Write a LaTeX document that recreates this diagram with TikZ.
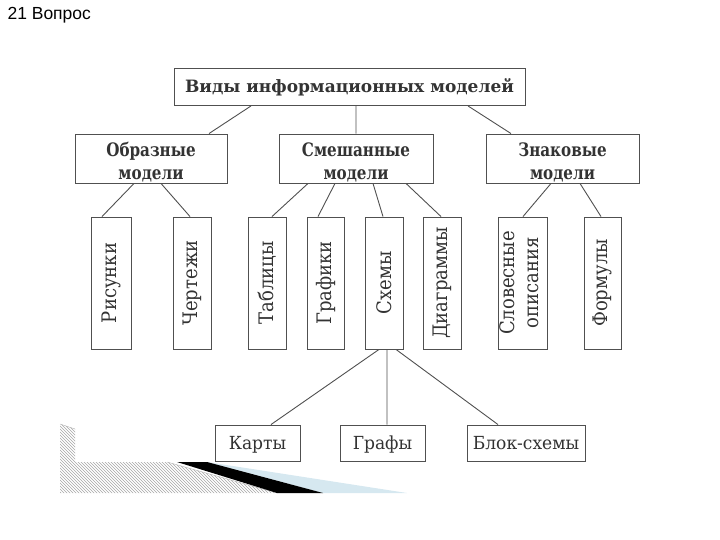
\documentclass[tikz,border=0pt]{standalone}
\usepackage{fontspec}
\usepackage{graphicx}
\setmainfont{DejaVu Serif}
\newfontfamily\slidefont{Liberation Sans}
\newfontfamily\headfont[FakeStretch=0.82]{DejaVu Serif}
\newfontfamily\leaffont[FakeStretch=0.9]{DejaVu Serif}
\newfontfamily\lowfont[FakeStretch=0.95]{DejaVu Serif}
\usetikzlibrary{patterns}
\definecolor{boxline}{HTML}{505050}
\definecolor{boxtext}{HTML}{333333}
\definecolor{paleblue}{HTML}{D6E8F0}

\begin{document}
\begin{tikzpicture}[x=1pt,y=-1pt,
    box/.style={draw=boxline,line width=0.9pt,text=boxtext,inner sep=0pt,align=center},
    title/.style={box,font=\bfseries\fontsize{17}{20}\selectfont},
    head/.style={box,minimum height=49pt,text height=45pt,font=\headfont\bfseries\fontsize{18.5}{23}\selectfont},
    leaf/.style={box,minimum height=132pt,font=\leaffont\fontsize{20}{21}\selectfont},
    low/.style={box,minimum height=36pt,text depth=0pt,font=\lowfont\fontsize{18}{20}\selectfont},
    link/.style={draw=boxline,line width=0.9pt}]
    \useasboundingbox (0,0) rectangle (720,540);

    % decoration of the slide
    \fill[pattern=north west lines,pattern color=gray!70] (60,424) -- (75,429) -- (75,462) -- (167,462) -- (277,493) -- (60,493) -- cycle;
    \draw[gray!60,line width=0.4pt] (60,424) -- (75,429) (167,462) -- (277,493);
    \fill[paleblue] (207,462) -- (407,493) -- (323,493) -- cycle;
    \fill[black] (177,462) -- (207,462) -- (323,493) -- (277,493) -- cycle;

    \node (ttl) at (4,15) [anchor=west,font=\slidefont\fontsize{17.5}{19}\selectfont] {21 Вопрос};

    \node (top) at (349.5,87) [title,minimum width=351pt,minimum height=37pt] {Виды информационных моделей};

    \node (obr) at (151,158.5) [head,minimum width=152pt] {Образные\\модели};
    \node (sme) at (356,158.5) [head,minimum width=154pt] {Смешанные\\модели};
    \node (zna) at (562.5,158.5) [head,minimum width=153pt] {Знаковые\\модели};

    \node (ris) at (111,283) [leaf,minimum width=40pt] {\rotatebox{90}{Рисунки}};
    \node (che) at (192,283) [leaf,minimum width=38pt] {\rotatebox{90}{Чертежи}};
    \node (tab) at (267,283) [leaf,minimum width=38pt] {\rotatebox{90}{Таблицы}};
    \node (gra) at (325.5,283) [leaf,minimum width=37pt] {\rotatebox{90}{Графики}};
    \node (sxe) at (384,283) [leaf,minimum width=38pt] {\rotatebox{90}{Схемы}};
    \node (dia) at (442,283) [leaf,minimum width=38pt] {\rotatebox{90}{Диаграммы}};
    \node (slo) at (522.5,283) [leaf,minimum width=49pt] {\rotatebox{90}{\begin{tabular}{@{}c@{}}Словесные\\[3pt]описания\end{tabular}}};
    \node (frm) at (602.5,283) [leaf,minimum width=37pt] {\rotatebox{90}{Формулы}};

    \node (kar) at (257.5,443) [low,minimum width=85pt] {Карты};
    \node (grf) at (382.5,443) [low,minimum width=85pt] {Графы};
    \node (blk) at (526,443) [low,minimum width=118pt] {Блок-схемы};

    \draw[link] ([xshift=-98.5pt]top.south) -- ([xshift=58pt]obr.north)
        ([xshift=6.5pt]top.south) -- (sme.north)
        ([xshift=118.5pt]top.south) -- ([xshift=-51.5pt]zna.north);

    \draw[link] ([xshift=-17pt]obr.south) -- ([xshift=-9pt]ris.north)
        ([xshift=10pt]obr.south) -- ([xshift=-2pt]che.north);

    \draw[link] ([xshift=-48pt]sme.south) -- ([xshift=5pt]tab.north)
        ([xshift=-21pt]sme.south) -- ([xshift=-7.5pt]gra.north)
        ([xshift=17pt]sme.south) -- ([xshift=-1pt]sxe.north)
        ([xshift=50pt]sme.south) -- ([xshift=-1pt]dia.north);

    \draw[link] ([xshift=-11.5pt]zna.south) -- ([xshift=0.5pt]slo.north)
        ([xshift=17.5pt]zna.south) -- ([xshift=-1.5pt]frm.north);

    \draw[link] ([xshift=-5pt]sxe.south) -- ([xshift=13.5pt]kar.north)
        ([xshift=3pt]sxe.south) -- ([xshift=4.5pt]grf.north)
        ([xshift=12pt]sxe.south) -- ([xshift=-28pt]blk.north);
\end{tikzpicture}
\end{document}
